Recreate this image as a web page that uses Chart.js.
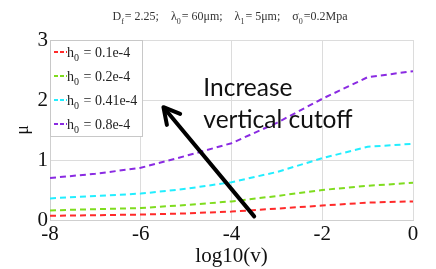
<!DOCTYPE html>
<html>
<head>
<meta charset="utf-8">
<script src="https://cdn.jsdelivr.net/npm/chart.js@4.4.0/dist/chart.umd.min.js"></script>
<style>
  html, body { margin: 0; padding: 0; background: #fff; }
  #wrap { width: 436px; height: 269px; }
</style>
</head>
<body>
<div id="wrap"><canvas id="muChart" width="436" height="269"></canvas></div>
<script>
'use strict';

// log10(v) positions
const logV = [-8, -7, -6, -5, -4, -3, -2, -1, 0];

// friction coefficient for each h0
const mu01 = [0.07, 0.08, 0.09, 0.11, 0.14, 0.19, 0.24, 0.29, 0.31];
const mu02 = [0.16, 0.18, 0.20, 0.25, 0.31, 0.40, 0.50, 0.57, 0.62];
const mu041 = [0.36, 0.40, 0.44, 0.52, 0.63, 0.80, 1.03, 1.22, 1.27];
const mu08 = [0.70, 0.77, 0.87, 1.07, 1.28, 1.62, 2.02, 2.38, 2.48];

const h0Labels = ['0.1e-4', '0.2e-4', '0.41e-4', '0.8e-4'];
const lineColors = ['#ff2a2a', '#7fdc1e', '#22eeff', '#8a2be2'];

// annotation arrow (data coords) and text
const arrowFrom = [-3.5, 0.06];
const arrowTo = [-5.5, 1.88];
const noteLines = ['Increase', 'vertical cutoff'];
const noteAt = [-4.62, 2.2];

const serif = '"Liberation Serif", "DejaVu Serif", serif';

const series = [mu01, mu02, mu041, mu08];
const datasets = series.map((vals, i) => ({
    label: 'h0 = ' + h0Labels[i],
    data: vals.map((v, j) => ({x: logV[j], y: v})),
    borderColor: lineColors[i],
    borderWidth: 2,
    borderDash: [6, 4],
    pointRadius: 0,
    fill: false,
    tension: 0
}));

// draws base text with subscript then the rest
const drawSub = (ctx, x, y, base, sub, rest, size) => {
    ctx.font = size + 'px ' + serif;
    ctx.fillText(base, x, y);
    let w = ctx.measureText(base).width;
    ctx.font = Math.round(size * 0.7) + 'px ' + serif;
    ctx.fillText(sub, x + w, y + size * 0.3);
    w += ctx.measureText(sub).width + 1;
    ctx.font = size + 'px ' + serif;
    ctx.fillText(rest, x + w, y);
    return w + ctx.measureText(rest).width;
};

const extras = {
    id: 'extras',
    afterDraw(chart) {
        const ctx = chart.ctx;
        const area = chart.chartArea;
        const xs = chart.scales.x;
        const ys = chart.scales.y;
        ctx.save();

        // title
        ctx.fillStyle = '#333';
        ctx.textBaseline = 'alphabetic';
        ctx.textAlign = 'left';
        const gap = '    ';
        const parts = [['D', 'f', '= 2.25;' + gap], ['\u03bb', '0', '= 60\u03bcm;' + gap], ['\u03bb', '1', '= 5\u03bcm;' + gap], ['\u03c3', '0', '=0.2Mpa']];
        let tw = 0;
        parts.forEach(p => {
            ctx.font = '12px ' + serif;
            tw += ctx.measureText(p[0]).width + ctx.measureText(p[2]).width + 1;
            ctx.font = '8px ' + serif;
            tw += ctx.measureText(p[1]).width;
        });
        let tx = 230 - tw / 2;
        parts.forEach(p => {
            tx += drawSub(ctx, tx, 20, p[0], p[1], p[2], 12);
        });

        // legend box
        const lx = area.left, ly = area.top;
        ctx.fillStyle = '#fff';
        ctx.fillRect(lx, ly, 92, 96);
        ctx.strokeStyle = '#c8c8c8';
        ctx.lineWidth = 1;
        ctx.strokeRect(lx + 0.5, ly + 0.5, 92, 96);
        chart.data.datasets.forEach((ds, i) => {
            const cy = ly + 12 + i * 24;
            ctx.strokeStyle = ds.borderColor;
            ctx.lineWidth = 2;
            ctx.setLineDash([4, 2]);
            ctx.beginPath();
            ctx.moveTo(lx + 4, cy);
            ctx.lineTo(lx + 17, cy);
            ctx.stroke();
            ctx.setLineDash([]);
            ctx.fillStyle = '#222';
            drawSub(ctx, lx + 17, cy + 5, 'h', '0', ' = ' + h0Labels[i], 14);
        });

        // arrow
        const x1 = xs.getPixelForValue(arrowFrom[0]), y1 = ys.getPixelForValue(arrowFrom[1]);
        const x2 = xs.getPixelForValue(arrowTo[0]), y2 = ys.getPixelForValue(arrowTo[1]);
        const ang = Math.atan2(y2 - y1, x2 - x1);
        ctx.strokeStyle = '#000';
        ctx.lineWidth = 4;
        ctx.lineCap = 'round';
        ctx.lineJoin = 'round';
        ctx.beginPath();
        ctx.moveTo(x1, y1);
        ctx.lineTo(x2 - 3 * Math.cos(ang), y2 - 3 * Math.sin(ang));
        ctx.stroke();
        ctx.beginPath();
        ctx.moveTo(x2 - 18 * Math.cos(ang - 0.5), y2 - 18 * Math.sin(ang - 0.5));
        ctx.lineTo(x2, y2);
        ctx.lineTo(x2 - 18 * Math.cos(ang + 0.5), y2 - 18 * Math.sin(ang + 0.5));
        ctx.stroke();

        // note text
        ctx.fillStyle = '#111';
        ctx.font = '24.5px Lato, "Open Sans", sans-serif';
        ctx.textBaseline = 'middle';
        const nx = xs.getPixelForValue(noteAt[0]);
        const ny = ys.getPixelForValue(noteAt[1]);
        noteLines.forEach((t, i) => ctx.fillText(t, nx, ny + i * 32));

        ctx.restore();
    }
};

new Chart('muChart', {
    type: 'line',
    data: {datasets: datasets},
    plugins: [extras],
    options: {
        responsive: false,
        animation: false,
        layout: {padding: {top: 40, right: 23, left: 0, bottom: 0}},
        plugins: {
            legend: {display: false},
            title: {display: false},
            tooltip: {enabled: false}
        },
        scales: {
            x: {
                type: 'linear',
                min: -8,
                max: 0,
                ticks: {stepSize: 2, color: '#111', padding: 2, font: {family: serif, size: 21}},
                grid: {color: '#dcdcdc', drawTicks: false},
                border: {color: '#cfcfcf'},
                title: {display: true, text: 'log10(v)', color: '#111', padding: 0, font: {family: serif, size: 21}},
                afterFit: (s) => { s.height = 49; }
            },
            y: {
                min: 0,
                max: 3,
                ticks: {stepSize: 1, color: '#111', padding: 2, font: {family: serif, size: 21}},
                grid: {color: '#dcdcdc', drawTicks: false},
                border: {color: '#cfcfcf'},
                title: {display: true, text: '\u03bc', color: '#111', padding: {top: 12, bottom: 0}, font: {family: serif, size: 18}},
                afterFit: (s) => { s.width = 50; }
            }
        }
    }
});
</script>
</body>
</html>
